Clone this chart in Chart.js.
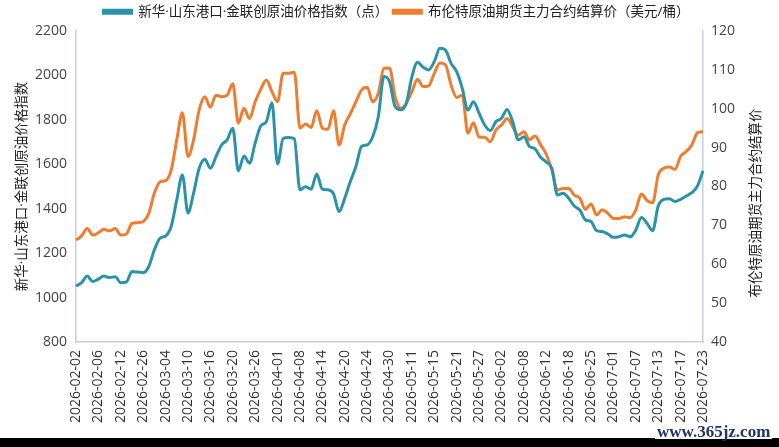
<!DOCTYPE html>
<html>
<head>
<meta charset="utf-8">
<script src="https://cdn.jsdelivr.net/npm/chart.js@4.4.1/dist/chart.umd.min.js"></script>
<style>
  html, body { margin: 0; padding: 0; background: #fff; }
  #wrap { position: relative; width: 779px; height: 447px; overflow: hidden; }
  #bar { position: absolute; left: 0; top: 438px; width: 779px; height: 9px; background: #000; }
  #mark { position: absolute; left: 655px; top: 424px; font: bold 17px "Liberation Serif", serif; color: #1f3566; background: #fff; padding: 0 2px; line-height: 15px; }
</style>
</head>
<body>
<div id="wrap">
  <canvas id="chart" width="779" height="447"></canvas>
  <div id="bar"></div>
  <div id="mark">www.365jz.com</div>
</div>
<script>
// trading days, 2026
const dates = [
  '2026-02-02','2026-02-03','2026-02-04','2026-02-05','2026-02-06',
  '2026-02-09','2026-02-10','2026-02-11','2026-02-12',
  '2026-02-13','2026-02-24','2026-02-25','2026-02-26',
  '2026-02-27','2026-03-02','2026-03-03','2026-03-04',
  '2026-03-05','2026-03-06','2026-03-09','2026-03-10',
  '2026-03-11','2026-03-12','2026-03-13','2026-03-16',
  '2026-03-17','2026-03-18','2026-03-19','2026-03-20',
  '2026-03-23','2026-03-24','2026-03-25','2026-03-26',
  '2026-03-27','2026-03-30','2026-03-31','2026-04-01',
  '2026-04-02','2026-04-03','2026-04-07','2026-04-08',
  '2026-04-09','2026-04-10','2026-04-13','2026-04-14',
  '2026-04-15','2026-04-16','2026-04-17','2026-04-20',
  '2026-04-21','2026-04-22','2026-04-23','2026-04-24',
  '2026-04-27','2026-04-28','2026-04-29','2026-04-30',
  '2026-05-06','2026-05-07','2026-05-08','2026-05-11',
  '2026-05-12','2026-05-13','2026-05-14','2026-05-15',
  '2026-05-18','2026-05-19','2026-05-20','2026-05-21',
  '2026-05-22','2026-05-25','2026-05-26','2026-05-27',
  '2026-05-28','2026-05-29','2026-06-01','2026-06-02',
  '2026-06-03','2026-06-04','2026-06-05','2026-06-08',
  '2026-06-09','2026-06-10','2026-06-11','2026-06-12',
  '2026-06-15','2026-06-16','2026-06-17','2026-06-18',
  '2026-06-22','2026-06-23','2026-06-24','2026-06-25',
  '2026-06-26','2026-06-29','2026-06-30','2026-07-01',
  '2026-07-02','2026-07-03','2026-07-06','2026-07-07',
  '2026-07-08','2026-07-09','2026-07-10','2026-07-13',
  '2026-07-14','2026-07-15','2026-07-16','2026-07-17',
  '2026-07-20','2026-07-21','2026-07-22','2026-07-23'
];

// 新华·山东港口·金联创原油价格指数（点）
const indexValues = [
  1052, 1067, 1097, 1072, 1083, 1097, 1090, 1094, 1067, 1070,
  1117, 1115, 1112, 1140, 1215, 1267, 1277, 1320, 1440, 1552,
  1381, 1470, 1582, 1623, 1582, 1634, 1687, 1710, 1762, 1570,
  1637, 1605, 1695, 1772, 1792, 1877, 1601, 1717, 1721, 1715,
  1485, 1499, 1488, 1556, 1488, 1485, 1467, 1387, 1447, 1522,
  1590, 1680, 1687, 1724, 1814, 1995, 1972, 1860, 1845, 1875,
  1994, 2059, 2037, 2025, 2062, 2122, 2114, 2054, 2017, 1942,
  1844, 1882, 1830, 1777, 1752, 1792, 1807, 1847, 1792, 1710,
  1724, 1680, 1669, 1632, 1610, 1582, 1462, 1470, 1447, 1412,
  1394, 1349, 1342, 1301, 1297, 1286, 1271, 1274, 1282, 1274,
  1304, 1361, 1334, 1301, 1412, 1442, 1445, 1432, 1442, 1457,
  1472, 1502, 1571
];

// 布伦特原油期货主力合约结算价（美元/桶）
const brentValues = [
  66.2, 67.3, 69.2, 67.5, 68.1, 69.0, 68.6, 69.2, 67.5, 67.8,
  70.5, 70.7, 71.0, 73.1, 78.3, 81.2, 81.5, 84.2, 92.0, 99.0,
  87.7, 92.0, 99.7, 103.1, 100.4, 103.5, 103.1, 103.5, 106.4, 96.3,
  100.1, 97.5, 101.8, 105.0, 107.4, 104.4, 101.8, 109.1, 109.1, 109.4,
  95.0, 96.1, 95.2, 99.5, 95.0, 94.7, 99.5, 90.7, 95.8, 98.7,
  101.8, 104.8, 105.5, 101.8, 104.0, 110.4, 110.5, 103.1, 100.1, 101.4,
  104.4, 107.6, 105.7, 105.9, 109.1, 111.8, 111.3, 106.1, 102.9, 103.5,
  93.7, 96.4, 92.7, 92.7, 91.5, 94.5, 95.8, 97.5, 95.4, 93.2,
  94.1, 92.0, 93.0, 90.7, 88.3, 84.2, 79.1, 79.5, 79.5, 77.8,
  77.0, 74.1, 75.5, 72.7, 74.0, 73.1, 71.8, 71.8, 72.2, 72.0,
  74.0, 78.1, 76.4, 75.8, 83.0, 84.7, 85.0, 84.4, 87.8, 89.0,
  90.7, 93.8, 94.1
];

const leftTitle  = '新华·山东港口·金联创原油价格指数';
const rightTitle = '布伦特原油期货主力合约结算价';

const teal   = '#2a93a9';
const orange = '#f07d2f';
const axisColor = '#c6d0dc';
const tickFont = { family: 'Open Sans', size: 14 };
// latin first so the middle dot stays narrow, CJK glyphs fall back
const cjk = '"Open Sans", "Noto Sans CJK SC", sans-serif';

// legend area height fixed so the plot starts where the reference does
const legendHeight = {
  id: 'legendHeight',
  afterInit(chart) {
    const fit = chart.legend.fit;
    chart.legend.fit = function () {
      fit.call(this);
      this.height = 31;
    };
  }
};

// right axis title, reads bottom to top like the left one
const rightAxisTitle = {
  id: 'rightAxisTitle',
  afterDraw(chart) {
    const ctx = chart.ctx;
    ctx.save();
    ctx.translate(756, 203);
    ctx.rotate(-Math.PI / 2);
    ctx.font = '13.5px ' + cjk;
    ctx.fillStyle = '#222';
    ctx.textAlign = 'center';
    ctx.textBaseline = 'middle';
    ctx.fillText(rightTitle, 0, 0);
    ctx.restore();
  }
};

new Chart(document.getElementById('chart'), {
  type: 'line',
  data: {
    labels: dates,
    datasets: [
      {
        label: '新华·山东港口·金联创原油价格指数（点）',
        data: indexValues,
        yAxisID: 'y',
        borderColor: teal,
        backgroundColor: teal,
        borderWidth: 3,
        pointRadius: 0,
        cubicInterpolationMode: 'monotone'
      },
      {
        label: '布伦特原油期货主力合约结算价（美元/桶）',
        data: brentValues,
        yAxisID: 'y1',
        borderColor: orange,
        backgroundColor: orange,
        borderWidth: 3,
        pointRadius: 0,
        cubicInterpolationMode: 'monotone'
      }
    ]
  },
  options: {
    responsive: false,
    animation: false,
    layout: { padding: { left: 14, right: 0, top: 0, bottom: 0 } },
    plugins: {
      legend: {
        position: 'top',
        labels: {
          boxWidth: 28,
          boxHeight: 3,
          padding: 5,
          color: '#222',
          font: { family: cjk, size: 13.5 }
        }
      },
      tooltip: { enabled: false }
    },
    scales: {
      x: {
        grid: { display: false, drawTicks: false },
        border: { display: true, color: axisColor, width: 1.5 },
        afterFit: s => { s.height = 105; },
        ticks: {
          autoSkip: false,
          maxRotation: 90,
          minRotation: 90,
          padding: 8,
          color: '#333',
          font: tickFont,
          callback: function (v, i) { return i % 4 === 0 ? this.getLabelForValue(v) : ''; }
        }
      },
      y: {
        position: 'left',
        min: 800,
        max: 2200,
        grid: { display: false, drawTicks: false },
        border: { display: true, color: axisColor, width: 1.5 },
        afterFit: s => { s.width = 62; },
        ticks: { stepSize: 200, padding: 9, color: '#444', font: tickFont, callback: v => String(v) },
        title: {
          display: true,
          text: leftTitle,
          color: '#222',
          font: { family: cjk, size: 13.5 },
          padding: { top: 0, bottom: 0 }
        }
      },
      y1: {
        position: 'right',
        min: 40,
        max: 120,
        grid: { display: false, drawTicks: false },
        border: { display: true, color: axisColor, width: 1.5 },
        afterFit: s => { s.width = 76; },
        ticks: { stepSize: 10, padding: 8, color: '#444', font: tickFont, callback: v => String(v) }
      }
    }
  },
  plugins: [legendHeight, rightAxisTitle]
});
</script>
</body>
</html>
